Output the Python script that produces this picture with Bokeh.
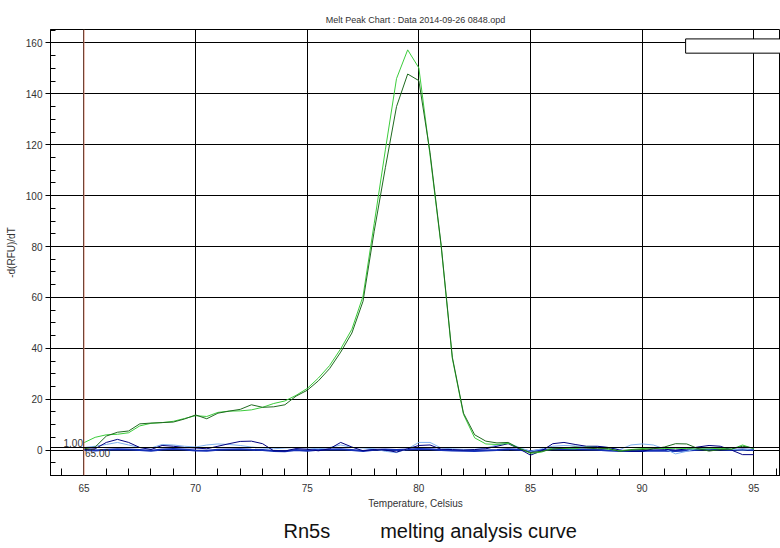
from bokeh.plotting import figure
from bokeh.models import (Range1d, SingleIntervalTicker, Span, Label, BoxAnnotation, Title)
from bokeh.embed import file_html
from bokeh.resources import INLINE

# ---------------- data ----------------
temps = [65.0, 65.5, 66.0, 66.5, 67.0, 67.5, 68.0, 68.5, 69.0, 69.5,
         70.0, 70.5, 71.0, 71.5, 72.0, 72.5, 73.0, 73.5, 74.0, 74.5,
         75.0, 75.5, 76.0, 76.5, 77.0, 77.5, 78.0, 78.5, 79.0, 79.5,
         80.0, 80.5, 81.0, 81.5, 82.0, 82.5, 83.0, 83.5, 84.0, 84.5,
         85.0, 85.5, 86.0, 86.5, 87.0, 87.5, 88.0, 88.5, 89.0, 89.5,
         90.0, 90.5, 91.0, 91.5, 92.0, 92.5, 93.0, 93.5, 94.0, 94.5,
         95.0]

green_light = [2.9, 5.0, 6.0, 6.2, 6.8, 9.5, 10.5, 10.8, 11.3, 12.4,
               13.5, 13.2, 14.8, 15.3, 15.4, 15.8, 16.8, 18.3, 19.3, 21.5,
               24.2, 28.3, 33.2, 39.8, 47.5, 60.5, 89.0, 118.0, 146.0, 157.3,
               150.2, 116.0, 80.0, 36.0, 14.0, 4.8, 2.4, 2.2, 2.6, 0.8,
               -1.3, -0.8, 0.9, 0.6, 0.5, 1.2, 1.0, 0.3, -0.3, 0.2,
               0.6, 0.8, 0.6, 0.7, 0.6, 0.4, 0.5, 0.7, 0.3, 2.0,
               0.5]

green_dark = [0.5, 1.2, 5.5, 7.0, 7.5, 10.3, 10.6, 10.8, 11.0, 12.2,
              13.8, 12.3, 14.5, 15.3, 16.0, 17.8, 16.8, 17.0, 17.8, 21.2,
              23.5, 27.2, 32.0, 38.5, 46.0, 58.5, 86.0, 111.0, 135.0, 147.8,
              145.2, 117.0, 80.5, 36.5, 14.5, 6.0, 3.5, 2.8, 3.0, 0.6,
              -1.0, -0.5, 0.3, 0.8, 1.2, 0.8, 0.5, 0.6, -0.5, 0.0,
              0.2, 0.5, 1.2, 2.5, 2.4, 0.6, -0.4, 0.2, 0.4, 1.5,
              0.8]

navy = [0.2, 0.5, 3.0, 4.2, 3.0, 1.0, 0.2, 1.8, 1.5, 1.0,
        0.8, 0.5, 1.5, 2.5, 3.4, 3.5, 2.5, -0.3, -0.4, 0.6,
        0.3, -0.3, 0.5, 3.0, 1.2, -0.3, 0.2, 0.0, -0.8, 0.5,
        1.8, 2.0, 0.3, 0.2, 0.0, 0.2, 0.5, 1.5, 2.5, 0.5,
        -2.0, -0.3, 2.5, 3.0, 2.2, 1.5, 1.5, 1.0, 0.0, -0.5,
        -0.5, 0.5, 0.3, 0.0, 0.4, 1.2, 1.8, 1.5, 0.0, -1.8,
        -1.8]

light_blue = [1.0, 1.5, 2.2, 3.0, 2.0, 1.0, 0.8, 2.2, 2.0, 1.5,
              1.2, 2.0, 2.4, 2.2, 1.8, 1.2, 0.8, 0.5, 0.8, 1.0,
              0.8, 0.5, 1.0, 2.0, 1.0, 0.8, 0.5, -0.5, -1.0, 0.5,
              3.0, 3.0, 0.8, 0.5, 0.3, 0.3, 0.8, 2.0, 2.8, 1.0,
              -0.5, 0.5, 1.5, 1.8, 1.6, 1.2, 1.4, 1.0, 0.2, 2.0,
              2.4, 2.0, 0.5, -1.5, -0.5, 0.8, 0.5, 1.0, 0.3, 0.0,
              0.5]

blue_ntc = [0.0, -0.2, 0.1, 0.3, 0.2, 0.0, -0.3, 0.2, 0.4, 0.2,
            -0.2, -0.3, 0.1, 0.2, 0.3, 0.1, 0.0, -0.4, -0.5, 0.0,
            -0.3, 0.1, 0.2, 0.3, 0.0, -0.4, 0.1, 0.2, 0.0, 0.2,
            0.4, 0.3, 0.0, -0.2, -0.3, -0.4, -0.2, 0.0, 0.3, 0.1,
            -0.5, 0.0, 0.3, 0.4, 0.3, 0.2, 0.1, -0.2, -0.4, -0.3,
            -0.4, -0.2, -0.3, -0.4, -0.2, 0.1, 0.3, 0.2, 0.0, 0.2,
            0.0]

threshold_temp = 65.00
threshold_rfu = 1.00

title_text = "Melt Peak Chart : Data 2014-09-26 0848.opd"
x_label = "Temperature, Celsius"
y_label = "-d(RFU)/dT"
caption = "Rn5s" + "\u00a0" * 9 + "melting analysis curve"

# legend box (empty) in data units
legend_box = dict(left=91.95, right=97.0, bottom=156.0, top=161.6)

FONT = "Liberation Sans"

p = figure(width=780, height=548, output_backend="svg", toolbar_location=None,
           x_range=Range1d(63.5, 96.2), y_range=Range1d(-10, 165.3),
           title=title_text,
           min_border_left=50, min_border_right=0, min_border_top=29,
           min_border_bottom=73)

p.title.text_font = FONT
p.title.text_font_size = "9px"
p.title.text_font_style = "normal"
p.title.text_color = "#333333"
p.title.align = "center"
p.title.standoff = 9

p.background_fill_color = "white"
p.border_fill_color = "white"
p.outline_line_color = "black"
p.outline_line_width = 1

# axes
xa = p.xaxis[0]
xa.ticker = SingleIntervalTicker(interval=5, num_minor_ticks=5)
xa.axis_label = x_label
ya = p.yaxis[0]
ya.ticker = SingleIntervalTicker(interval=20, num_minor_ticks=4)
ya.axis_label = y_label

for ax in (xa, ya):
    ax.axis_label_text_font = FONT
    ax.axis_label_text_font_size = "10px"
    ax.axis_label_text_font_style = "normal"
    ax.axis_label_text_color = "#333333"
    ax.major_label_text_font = FONT
    ax.major_label_text_font_size = "10px"
    ax.major_label_text_color = "#333333"
    ax.axis_line_color = "black"
    ax.major_tick_line_color = "black"
    ax.minor_tick_line_color = "black"

xa.major_tick_in = 7
xa.major_tick_out = 0
xa.minor_tick_in = 7
xa.minor_tick_out = 0
xa.major_label_standoff = 8
xa.axis_label_standoff = 3

ya.major_tick_in = 0
ya.major_tick_out = 5
ya.minor_tick_in = 5
ya.minor_tick_out = 0
ya.major_label_standoff = 3
ya.axis_label_standoff = 6

for g in (p.xgrid[0], p.ygrid[0]):
    g.grid_line_color = "black"
    g.grid_line_width = 1
    g.grid_line_alpha = 1.0

# threshold markers
p.add_layout(Span(location=threshold_temp, dimension="height",
                  line_color="#d9826a", line_width=1))
p.add_layout(Span(location=threshold_rfu, dimension="width",
                  line_color="black", line_width=1))

# curves
p.line(temps, blue_ntc, line_color="#1530b8", line_width=2)
p.line(temps, light_blue, line_color="#7fb0ee", line_width=1)
p.line(temps, navy, line_color="#000080", line_width=1)
p.line(temps, green_light, line_color="#3ccc3c", line_width=1)
p.line(temps, green_dark, line_color="#1f6a1f", line_width=1)

# threshold labels
p.add_layout(Label(x=threshold_temp, y=threshold_rfu, text=f"{threshold_rfu:.2f}",
                   text_align="right", text_baseline="bottom",
                   text_font=FONT, text_font_size="10px", text_color="#333333",
                   x_offset=-1, y_offset=1))
p.add_layout(Label(x=threshold_temp, y=threshold_rfu, text=f"{threshold_temp:.2f}",
                   text_align="left", text_baseline="top",
                   text_font=FONT, text_font_size="10px", text_color="#333333",
                   x_offset=1, y_offset=-1))

# empty legend box
p.add_layout(BoxAnnotation(fill_color="white", fill_alpha=1.0,
                           line_color="black", line_width=1, line_alpha=1.0,
                           **legend_box))

# caption below the chart
cap = Title(text=caption, align="left", offset=233, text_font=FONT,
            text_font_size="20px", text_font_style="normal",
            text_color="#111111", standoff=12)
p.add_layout(cap, "below")

open("out.html", "w").write(file_html(p, INLINE))
